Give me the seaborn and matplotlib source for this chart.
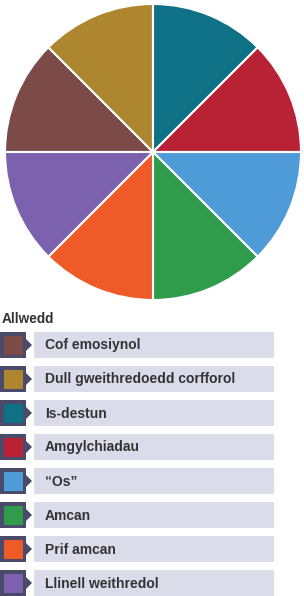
import matplotlib
matplotlib.use("Agg")
import matplotlib.pyplot as plt
import seaborn as sns
from matplotlib.patches import Rectangle, Polygon

sns.set_theme(style="white")
plt.rcParams['font.family'] = ['Liberation Sans', 'DejaVu Sans']

# Data
labels = ["Cof emosiynol", "Dull gweithredoedd corfforol", "Is-destun", "Amgylchiadau",
          "\u201cOs\u201d", "Amcan", "Prif amcan", "Llinell weithredol"]
values = [1, 1, 1, 1, 1, 1, 1, 1]
colors = ["#7D4B47", "#AE862F", "#0E7186", "#B82234", "#4F9BD8", "#2E9C4B", "#EF5A29", "#7C62AE"]
legend_title = "Allwedd"

W, H = 304, 596
fig = plt.figure(figsize=(W / 100, H / 100), dpi=100)
fig.patch.set_facecolor("white")

# Pie
cx, cy, r = 153, 152, 148
ax = fig.add_axes([(cx - r) / W, (H - cy - r) / H, 2 * r / W, 2 * r / H])
ax.pie(values, colors=colors, startangle=180, counterclock=False, radius=1,
       wedgeprops=dict(edgecolor="white", linewidth=1.5))
ax.set_xlim(-1, 1)
ax.set_ylim(-1, 1)
ax.set_aspect("auto")
ax.axis("off")

# Legend in pixel coordinates
lax = fig.add_axes([0, 0, 1, 1])
lax.set_xlim(0, W)
lax.set_ylim(H, 0)
lax.axis("off")
lax.text(2, 319, legend_title, fontsize=9.8, fontweight="bold", color="#333333", va="center", ha="left")

navy = "#4A4A6B"
lav = "#DCDBEA"
top0, step, h = 332, 34, 26
for i, (lab, col) in enumerate(zip(labels, colors)):
    t = top0 + i * step
    lax.add_patch(Rectangle((0, t), 26, h, facecolor=navy, edgecolor="none"))
    lax.add_patch(Rectangle((3.5, t + 3.5), 19, 19, facecolor=col, edgecolor="none"))
    lax.add_patch(Polygon([(26, t + 7), (32, t + 13), (26, t + 19)], closed=True, facecolor=navy, edgecolor="none"))
    lax.add_patch(Rectangle((34, t), 240, h, facecolor=lav, edgecolor="none"))
    lax.text(45, t + h / 2 + 0.5, lab, fontsize=10, fontweight="bold", color="#333333", va="center", ha="left")

fig.savefig("out.png", dpi=100, facecolor="white")
